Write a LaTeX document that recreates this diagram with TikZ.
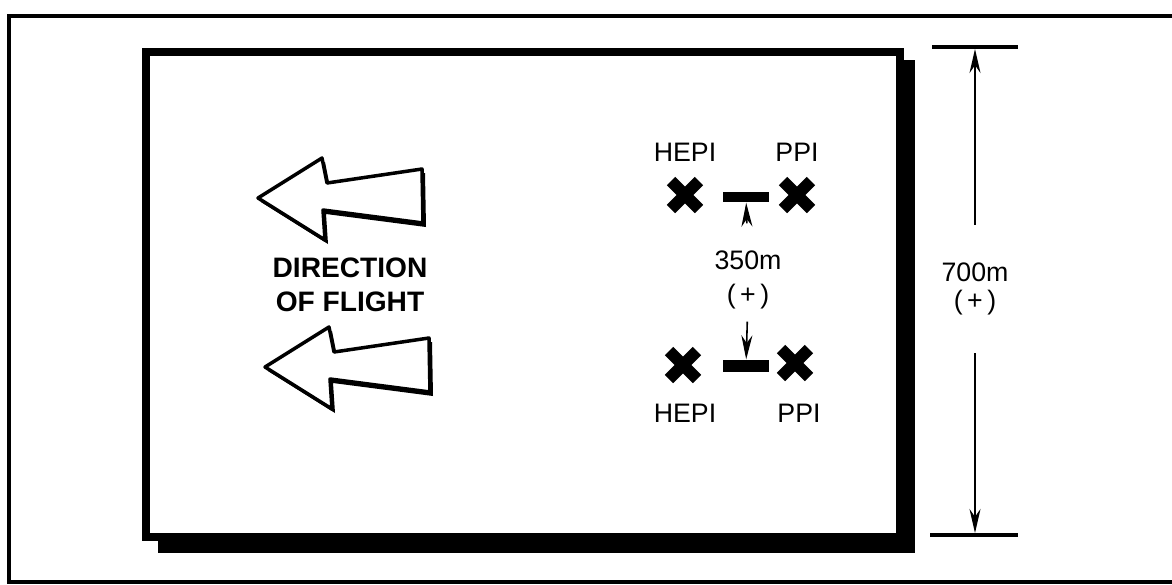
\documentclass[tikz,border=0pt]{standalone}
\usepackage{fontspec}
\setmainfont{Liberation Sans}
\usetikzlibrary{arrows.meta}

\tikzset{
  frameline/.style={line width=1pt},
  boxline/.style={line width=2.3pt},
  tickline/.style={line width=0.9pt},
  dimline/.style={line width=0.45pt, -{Stealth[length=2.4mm,width=1.1mm]}},
  flightarrow/.style={fill=white, draw, line width=1pt, line join=round},
  lbl/.style={font=\fontsize{7.6}{8}\selectfont, inner sep=1pt},
  bar/.style={fill, inner sep=0pt, minimum width=0.45cm},
  crossmark/.pic={
    \draw[line width=3.4pt] (-14,-14) -- (14,14) (-14,14) -- (14,-14);
  }
}

\begin{document}
\begin{tikzpicture}[x=0.01cm, y=-0.01cm]
  \useasboundingbox (0,0) rectangle (1172,584);
  \clip (0,0) rectangle (1172,584);

  % outer frame, cut by the page on the right
  \draw[frameline] (1200,16) -- (9,16) -- (9,582) -- (1200,582);

  % test area with its shadow
  \fill (158,60) rectangle (915,553);
  \draw[boxline, fill=white] (146,52) rectangle (900,537);

  % direction of flight
  \foreach \dx/\dy in {0/0, 7/169} {
    \begin{scope}[shift={(\dx,\dy)}]
      \fill[shift={(3,4)}] (258,198) -- (322,158) -- (327,183) -- (422,169)
        -- (423,223) -- (323,210) -- (325,240) -- cycle;
      \path[flightarrow] (258,198) -- (322,158) -- (327,183) -- (422,169)
        -- (423,223) -- (323,210) -- (325,240) -- cycle;
    \end{scope}
  }
  \node[font=\bfseries\fontsize{8}{9.8}\selectfont, align=center] (flight)
    at (350,285) {DIRECTION\\OF FLIGHT};

  % impact points
  \foreach \px/\py in {685/195, 797/195, 683/365, 795/363}
    \pic at (\px,\py) {crossmark};
  \node[lbl] (hepiTop) at (685,152) {HEPI};
  \node[lbl] (ppiTop) at (797,152) {PPI};
  \node[lbl] (hepiBot) at (685,413) {HEPI};
  \node[lbl] (ppiBot) at (799,413) {PPI};

  \node[bar, minimum height=0.1cm] (barTop) at (746,197) {};
  \node[bar, minimum height=0.12cm] (barBot) at (746,366) {};
  \node[lbl] (gap) at (748,260) {350m};
  \node[lbl] (gapSign) at (748,297) {(\,+\,)};
  \draw[dimline, shorten <=0.23cm] (gap) -- (barTop);
  \draw[dimline, shorten <=0.08cm] (gapSign) -- (barBot);

  % overall length
  \draw[tickline] (932,47) -- (1018,47);
  \draw[tickline] (930,535) -- (1018,535);
  \coordinate (spanTop) at (975,49);
  \coordinate (spanBot) at (975,533);
  \node[lbl, align=center] (span) at (975,289) {700m\\(\,+\,)};
  \draw[dimline, shorten <=0.34cm] (span) -- (spanTop);
  \draw[dimline, shorten <=0.34cm] (span) -- (spanBot);
\end{tikzpicture}
\end{document}
